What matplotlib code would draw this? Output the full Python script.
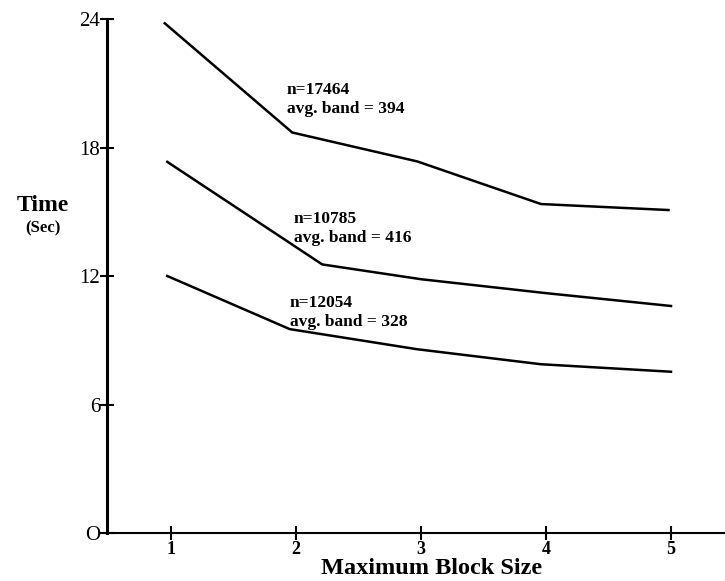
import matplotlib.pyplot as plt

# 데이터
x_top = [0.95, 1.97, 2.97, 3.96, 4.98]
t_top = [23.8, 18.7, 17.35, 15.36, 15.08]

x_mid = [0.97, 2.21, 3.0, 4.0, 5.0]
t_mid = [17.33, 12.54, 11.85, 11.2, 10.6]

x_low = [0.97, 1.95, 2.97, 3.96, 5.0]
t_low = [12.0, 9.52, 8.58, 7.88, 7.53]

labels = ["n=17464\navg. band = 394",
          "n=10785\navg. band = 416",
          "n=12054\navg. band = 328"]
label_pos = [(1.928, 20.24), (1.98, 14.24), (1.95, 10.29)]

xticks = [1, 2, 3, 4, 5]
yticks = [0, 6, 12, 18, 24]

serif = ['Liberation Serif', 'DejaVu Serif']

fig = plt.figure(figsize=(7.25, 5.81), dpi=100)
ax = fig.add_axes([0.1476, 0.0826, 0.8524, 0.8847])

for xs, ts in [(x_top, t_top), (x_mid, t_mid), (x_low, t_low)]:
    ax.plot(xs, ts, color='black', lw=1.8, solid_joinstyle='miter')

for txt, (px, py) in zip(labels, label_pos):
    ax.text(px, py, txt, family=serif, fontweight='bold', fontsize=12.5,
            ha='left', va='center', linespacing=1.25)

ax.set_xlim(0.488, 5.432)
ax.set_ylim(0, 24)
ax.spines['top'].set_visible(False)
ax.spines['right'].set_visible(False)
ax.spines['left'].set_linewidth(2.2)
ax.spines['bottom'].set_linewidth(1.5)

ax.set_xticks(xticks)
ax.set_yticks(yticks)
ax.set_xticklabels([str(v) for v in xticks], family=serif, fontweight='bold', fontsize=13)
ax.set_yticklabels(['O'] + [str(v) for v in yticks[1:]], family=serif, fontsize=15)
ax.tick_params(axis='both', direction='inout', length=10, width=1.5, color='black')
ax.tick_params(axis='x', pad=1)
ax.tick_params(axis='y', pad=0)

fig.text(43 / 725, 1 - 205 / 581, 'Time', family=serif, fontsize=17, fontweight='bold',
         ha='center', va='center')
fig.text(43 / 725, 1 - 228 / 581, '(Sec)', family=serif, fontsize=12, fontweight='bold',
         ha='center', va='center')
fig.text(432 / 725, 1 - 568 / 581, 'Maximum Block Size', family=serif, fontsize=17.5,
         fontweight='bold', ha='center', va='center')

fig.savefig('out.png', dpi=100)
